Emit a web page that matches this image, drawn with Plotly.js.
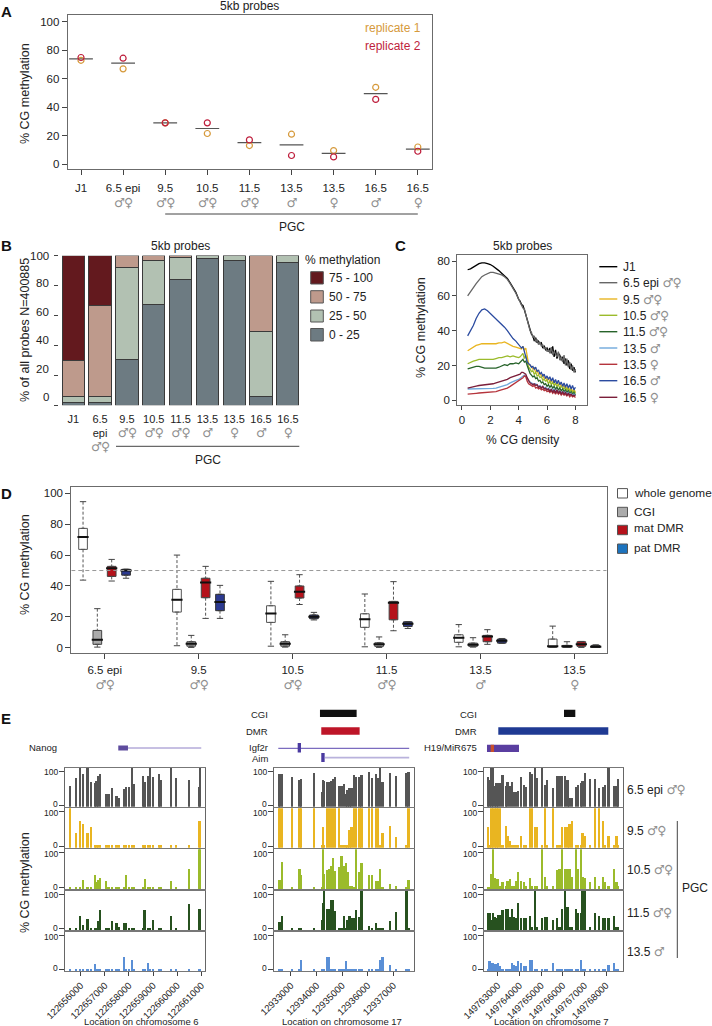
<!DOCTYPE html>
<html><head><meta charset="utf-8">
<script src="https://cdn.plot.ly/plotly-3.0.1.min.js"></script>
<style>html,body{margin:0;padding:0;background:#fff}#g{width:712px;height:1026px}</style>
</head><body><div id="g"></div>
<script>
const SX='♂♀', M='♂', F='♀';
// ---------- Panel A
const aTicks=['J1','6.5 epi','9.5','10.5','11.5','13.5','13.5','16.5','16.5'];
const aSex=['',SX,SX,SX,SX,M,F,M,F];
const aRep1=[73,67,29,21.5,13,21,9.5,54,12];
const aRep2=[75,74.5,29,29,17,6,5,45.5,9];
const aMean=[74,71,29,25,15,13.5,7.5,49.5,10.5];
// ---------- Panel B
const bTicks=['J1','6.5<br>epi','9.5','10.5','11.5','13.5','13.5','16.5','16.5'];
const bSex=['',SX,SX,SX,SX,M,F,M,F];
const b0_25=[2,2,30.7,67.5,84.2,97.8,96.9,6.2,95.5];
const b25_50=[3.8,3.8,61.5,29.5,14.5,2,3,43,4.3];
const b50_75=[24,60.6,7.6,3,1.2,0.2,0.1,50.8,0.2];
const b75_100=[70.2,33.6,0.2,0,0.1,0,0,0,0];
const bLegend=['75 - 100','50 - 75','25 - 50','0 - 25'];
const bAxisLabels=['100','80','60','40','20','0'];
// ---------- Panel C
const cX=[0.4,0.6,0.8,1,1.2,1.4,1.6,1.8,2,2.2,2.4,2.6,2.8,3,3.2,3.4,3.6,3.8,4,
4.1,4.2,4.3,4.4,4.5,4.6,4.7,4.8,4.9,5,5.1,5.2,5.3,5.4,5.5,5.6,5.7,5.8,5.9,6,
6.1,6.2,6.3,6.4,6.5,6.6,6.7,6.8,6.9,7,7.1,7.2,7.3,7.4,7.5,7.6,7.7,7.8,7.9,8];
const cJ1=[75,75.5,76.5,77.5,78.5,79,79,78.5,78,77,76,74.5,73,71.5,70,67.5,65,62,58,
57,55,54.5,52,49,47,44,41.5,38,37,34,36,33,34,32.5,33,30,31,29,30,
28,30,27,31,25,29,24,27,26,23,25,21,24,20,23,18,21,17,19,16];
const cE65=[60,62.5,65,67,69,71,72,73,73.5,73.5,73,72.5,72,71,69.5,67,64.5,61.5,58,
56.5,55,53,52.5,49,46,43,40,39,36,37,33.5,35,32,33.5,31,32,29.5,30.5,28,
29,27,30.5,26,28,26.5,25,28,23,25,22,26,20,24,19,22,17.5,20,16,18];
const c95=[28.5,29.5,30.5,31.5,32,32.5,32.5,32.5,32.5,32.5,32.5,33,33,33.5,32.5,31.5,31,30.5,30,
30,29.5,31,29,30,26,21,20,19.5,18,18.5,16,17,15,15.5,14,14.5,12.5,13,11.5,
12.5,10.5,12,9.5,11.5,9,10.5,8.5,10,8,9,7.5,8.5,6,8,5.5,7,5,6.5,4.5];
const c105=[21,22,22.5,23,23.5,23.5,23.5,23.5,23.5,23.5,24,24.5,24.5,25,25.5,25,25.5,25,24.5,
25,26,27,24,26,22,19,18,16.5,17,15,16,14,14.5,13,13.5,11.5,12,11,11.5,
9.5,11,9,10.5,8.5,9.5,8,9,7,8,7.5,6.5,7.5,5.5,7,5,6,4.5,5.5,4];
const c115=[18,18.5,19,19.5,19.5,19,18.5,18.5,18.5,18.5,18.5,19,20,20.5,20,21,21,21.5,21,
22,22.5,23.5,22,22.5,20,17,15.5,14.5,13.5,14,12.5,13,11,11.5,10,10.5,9,9.5,8,
9,7.5,8.5,7,8,6.5,7.5,6,7,5.5,6.5,5,6,4.5,5.5,4,5,3.5,4.5,3];
const c135m=[6.5,6.5,6.5,6.5,6.5,6.5,6.5,6.5,6.5,6.8,7,7.5,8,8.5,9,10,11,11.5,12,
12.5,13,14,14.5,14,12.5,11,10.5,10,9.5,9,9.5,8.5,8,8.5,7.5,8,7,7.5,6.5,
7,6,6.5,5.5,6.5,5,6,4.5,5.5,4.5,5,4,5,3.5,4.5,3,4,3,3.5,2.5];
const c135f=[3.5,3.8,4,4,4.2,4.3,4.3,4.4,4.5,4.6,5,5.5,6,6.5,7,8,9,10,11,
11.5,12,13,14,13.5,11,9.5,9,8.5,8,8.5,7,7.5,6.5,7,6,6.5,5.5,6,5,
5.5,4.5,5.5,4,5,3.5,5,3.5,4.5,3,4,3,3.5,2.5,3.5,2,3,2,2.5,1.5];
const c165m=[37,40,43,47,50,52,52.5,51.5,50,48.5,47,45.5,44,42,40,37.5,35.5,34,32,
31.5,30,31,28,26,22,21,20.5,19,19.5,18,19,16.5,17.5,15,16,14,15,12.5,14,
12,13.5,11,13,10,12,9.5,11.5,9,10.5,8,10,7.5,9.5,7,9,6.5,8.5,6,7.5];
const c165f=[7,7.5,8,8.2,8.5,8.7,9,9,9,9.5,10,10.5,11,11.5,12,13,13.5,14,14.5,
15,16,16,15.5,15,13,11,10,9.5,9,9.5,8.5,9,7.5,8,7,8,6.5,7,6,
6.5,5,6.5,4.5,6,4,6,4,5.5,3.5,5,3.5,4.5,3,4,3,3.5,2.5,3,2.5];
// ---------- Panel D
const dTicks=['6.5 epi','9.5','10.5','11.5','13.5','13.5'];
const dSex=[SX,SX,SX,SX,M,F];
const wgLow=[43.8,1.3,1,0.6,0.6,0.2], wgQ1=[63.7,23.1,16.4,13.2,3.5,0.2], wgMed=[71.7,31.1,22.2,18.4,6.5,0.9], wgQ3=[77.3,37.8,27.2,22,8.4,5.6], wgHigh=[94.6,60,43,34.8,15,14];
const cgLow=[0.4,0.2,0.4,0.2,0.4,0.2], cgQ1=[2.2,1,1,0.9,0.9,0.2], cgMed=[5.2,2.6,2.6,2.2,2,0.9], cgQ3=[11.2,3.9,3.9,3.2,3,1.5], cgHigh=[25.3,8,8.4,7,6.5,3.9];
const maLow=[43.2,19,28,11,2.2,0.2], maQ1=[46.2,32.4,32.2,18.1,3.9,0.9], maMed=[51.4,42.3,36.3,29.2,7.3,2.2], maQ3=[52.7,45,40,30,8,3.9], maHigh=[57.2,52.7,47.3,42.8,11.7,4.1];
const paLow=[45,19,18,12.5,2.8,0.2], paQ1=[47,24,18.8,13.8,3,0.2], paMed=[50,29.6,20,15.5,4.5,0.6], paQ3=[50.8,34.6,21.2,16.8,5.6,1.5], paHigh=[50.8,40.4,22.9,16.8,6,1.9];
// ---------- Panel E
const rowLabels=['6.5 epi','9.5','10.5','11.5','13.5'];
const rowSex=[SX,SX,SX,SX,M];
const e1Start=122656000, e2Start=12933000, e3Start=149763000;
const e1Ticks=[122656000,122657000,122658000,122659000,122660000,122661000];
const e2Ticks=[12933000,12934000,12935000,12936000,12937000];
const e3Ticks=[149763000,149764000,149765000,149766000,149767000,149768000];
const e1Kb=[-0.43,-0.18,-0.03,0.11,0.28,0.43,0.59,0.66,0.73,0.79,1.05,1.15,1.31,1.49,1.59,1.80,1.88,2.00,2.14,2.21,2.57,2.64,2.68,2.80,2.87,3.01,3.25,3.31,3.73,3.94,4.50,4.90,4.94];
const e1R1=[56,80,100,91,100,69,66,71,85,91,32,32,50,28,20,47,55,55,100,61,85,69,56,85,100,82,91,74,100,79,74,55,100];
const e1R2=[100,38,74,66,38,56,3,3,3,3,3,3,3,3,3,3,3,3,3,3,3,3,3,3,3,3,3,3,3,3,3,74,74];
const e1R3=[3,3,3,22,3,3,37,16,23,28,19,3,3,3,3,3,37,3,3,3,3,3,26,3,3,3,3,3,21,3,55,100,100];
const e1R4=[3,3,37,11,29,3,3,3,23,54,3,3,23,17,6,17,17,3,3,3,3,54,54,3,3,25,3,3,37,3,73,56,56];
const e1R5=[3,3,3,3,3,3,17,3,3,3,3,3,3,3,3,38,3,3,29,3,3,3,3,19,3,3,3,3,3,3,3,3,3];
const e2Kb=[-0.48,-0.43,-0.36,0.03,0.33,0.39,0.90,1.20,1.25,1.30,1.41,1.49,1.56,1.64,1.72,1.88,1.98,2.06,2.14,2.21,2.29,2.37,2.45,2.54,2.68,2.76,3.06,3.18,3.31,3.39,3.49,3.58,3.86,4.10,4.51,4.59];
const e2R1=[91,91,91,82,74,78,94,38,74,71,69,67,71,78,84,56,56,61,32,45,52,52,88,82,82,88,96,81,91,80,100,69,95,85,95,98];
const e2R2=[100,100,100,100,100,100,100,3,56,3,100,100,100,100,100,100,3,3,3,3,46,56,100,100,100,100,100,100,100,100,3,38,58,26,3,100];
const e2R3=[23,23,73,3,55,36,3,3,100,39,50,55,63,86,48,60,92,63,70,44,5,5,3,100,46,70,38,38,21,21,55,3,12,4,3,23];
const e2R4=[20,20,37,3,3,3,3,27,74,100,56,56,82,82,52,3,3,37,3,25,37,30,30,54,35,100,9,3,17,3,3,3,23,48,100,3];
const e2R5=[3,3,3,3,3,29,3,3,3,3,38,38,3,3,3,3,3,3,24,3,3,3,3,3,3,3,3,3,3,3,29,38,14,3,3,3];
const e3Kb=[-0.45,-0.38,-0.29,-0.23,-0.14,-0.05,0.03,0.11,0.22,0.37,0.45,0.57,0.66,0.75,0.85,0.94,1.09,1.20,1.32,1.49,1.57,1.71,1.83,2.05,2.17,2.29,2.54,2.75,2.85,2.98,3.12,3.22,3.31,3.43,3.62,3.71,3.83,3.92,4.03,4.26,4.49,4.69,4.85,4.97,5.12,5.37,5.49,5.57];
const e3R1=[82,74,100,100,56,66,64,66,88,56,69,56,69,40,40,43,84,59,54,98,91,100,79,100,59,74,50,87,87,87,87,74,22,22,54,59,64,71,95,78,78,52,54,59,100,57,56,78];
const e3R2=[56,3,100,100,100,100,100,100,3,58,29,15,3,3,3,3,31,3,3,100,100,56,56,3,100,3,100,3,3,56,56,56,66,74,3,3,3,39,29,3,100,100,73,3,31,3,31,3];
const e3R3=[3,3,40,100,28,26,24,4,16,4,21,26,4,4,21,44,21,16,4,28,4,4,4,100,31,4,4,50,55,100,55,55,55,31,100,55,100,31,28,16,31,4,31,16,4,55,16,4];
const e3R4=[47,47,25,47,33,30,40,40,54,56,56,35,56,35,30,74,30,30,30,37,5,100,5,30,33,33,25,30,5,56,100,64,5,5,56,45,45,100,100,5,45,37,30,30,30,37,5,5];
const e3R5=[3,24,19,19,17,17,19,10,3,3,3,3,19,15,10,24,19,10,10,27,27,3,3,3,3,3,19,3,3,3,3,3,3,3,3,3,29,3,3,3,3,3,3,3,15,19,3,3];
// gene model coordinates (genome positions)
const nanogGene=[122657794,122660998], nanogExon=[122657558,122657960];
const cgi2=[12934133,12935566], dmr2=[12934184,12935684];
const igf2rGene=[12932504,12937621], igf2rExon=[12933262,12933391];
const aimGene=[12934328,12937621], aimExon=[12934184,12934316];
const cgi3=[149766061,149766583], dmr3=[149763028,149768106];
const h19Gene=[149762506,149763983], h19Exon=[149762677,149762829];

// ---------- helpers
const W=712,H=1026, FONT='"Liberation Sans",Arial,sans-serif';
const INK='#222222', GREY='#909090', BOX='#6b6b6b';
const px=x=>x/W, py=y=>1-y/H;
const traces=[], shapes=[], annotations=[], layout={};
function sexSpan(s){return s?`<span style="color:${GREY};font-family:'DejaVu Sans';font-size:12.5px;letter-spacing:-1px">${s}</span>`:'';}
function ann(x,y,text,o={}){annotations.push({xref:'paper',yref:'paper',x:px(x),y:py(y),text,showarrow:false,
  xanchor:o.a||'center',yanchor:'middle',textangle:o.angle||0,align:o.a||'center',
  font:{family:FONT,size:o.size||12,color:o.color||INK},borderpad:0,borderwidth:0});}
function addAxes(n,xp,yp,xo,yo){
  const s=n>1?n:'';
  layout['xaxis'+s]=Object.assign({domain:[px(xp[0]),px(xp[1])],anchor:'y'+s,showgrid:false,zeroline:false,showline:true,mirror:true,linecolor:BOX,linewidth:1,
    ticks:'outside',ticklen:5,tickcolor:'#444',tickangle:0,tickfont:{family:FONT,size:11.5,color:INK},fixedrange:true},xo);
  layout['yaxis'+s]=Object.assign({domain:[py(yp[1]),py(yp[0])],anchor:'x'+s,showgrid:false,zeroline:false,showline:true,mirror:true,linecolor:BOX,linewidth:1,
    ticks:'outside',ticklen:5,tickcolor:'#444',tickangle:0,tickfont:{family:FONT,size:11.5,color:INK},fixedrange:true},yo);
}
function lineShape(x0,y0,x1,y1,color,w,dash){shapes.push({type:'line',xref:'paper',yref:'paper',x0:px(x0),x1:px(x1),y0:py(y0),y1:py(y1),line:{color,width:w,dash:dash||'solid'}});}
function rectShape(x0,y0,x1,y1,fill,lc){shapes.push({type:'rect',xref:'paper',yref:'paper',x0:px(x0),x1:px(x1),y0:py(y0),y1:py(y1),fillcolor:fill,line:{color:lc||fill,width:lc?1:0}});}
function geneRect(xref,xs,y0,y1,fill){shapes.push({type:'rect',xref,yref:'paper',x0:xs[0],x1:xs[1],y0:py(y0),y1:py(y1),fillcolor:fill,line:{width:0}});}
function geneLine(xref,xs,y,color,w){shapes.push({type:'line',xref,yref:'paper',x0:xs[0],x1:xs[1],y0:py(y),y1:py(y),line:{color,width:w}});}
const idx=a=>a.map((_,i)=>i);

// ---------- A
addAxes(1,[67.7,431.7],[15,169],{range:[-0.316,8.33],tickmode:'array',tickvals:idx(aTicks),ticklabelstandoff:3,
  ticktext:aTicks.map((t,i)=>t+'<br>'+sexSpan(aSex[i]))},{range:[-3.5,104.9],tickvals:[0,20,40,60,80,100]});
traces.push({x:idx(aMean),y:aMean,mode:'markers',type:'scatter',xaxis:'x',yaxis:'y',marker:{symbol:'line-ew',size:17,line:{width:1.2,color:'#555'}}});
traces.push({x:idx(aRep1),y:aRep1,mode:'markers',type:'scatter',marker:{symbol:'circle-open',size:6,line:{width:1.2,color:'#D69A3C'},color:'#D69A3C'}});
traces.push({x:idx(aRep2),y:aRep2,mode:'markers',type:'scatter',marker:{symbol:'circle-open',size:6,line:{width:1.2,color:'#BE1E3C'},color:'#BE1E3C'}});
ann(249,6.5,'5kb probes');
ann(393,28.3,'replicate 1',{color:'#D69A3C'});
ann(393,45.7,'replicate 2',{color:'#BE1E3C'});
ann(25,94,'% CG methylation',{angle:-90,size:12.5});
shapes.push({type:'line',xref:'x',yref:'paper',x0:2,x1:8,y0:py(214),y1:py(214),line:{color:'#444',width:1}});
ann(291.7,226.7,'PGC');
ann(6,11.5,'<b>A</b>',{size:15,color:'#111'});

// ---------- B
addAxes(2,[59.3,301],[255.7,405.3],{range:[-0.52,8.49],tickmode:'array',tickvals:idx(bTicks),ticklen:0,showline:false,mirror:false,ticklabelstandoff:3,
  ticktext:bTicks.map((t,i)=>t+(bSex[i]?'<br>'+sexSpan(bSex[i]):'')),tickfont:{family:FONT,size:11,color:INK}},
  {range:[0,100],tickvals:[0,20,40,60,80,100],showticklabels:false,showline:false,mirror:false,ticklen:4});
const bCols=['#6D7B82','#B2C1B2','#BE9A8C','#63191E'];
[b0_25,b25_50,b50_75,b75_100].forEach((v,i)=>traces.push({type:'bar',x:idx(v),y:v,xaxis:'x2',yaxis:'y2',width:0.83,cliponaxis:false,
  marker:{color:bCols[i],line:{color:'#3a3a3a',width:1}}}));
[255.7,283.3,311.7,340,369,397.3].forEach((y,i)=>ann(49,y,bAxisLabels[i],{a:'right',size:11.5}));
ann(180,245.7,'5kb probes');
ann(25,330,'% of all probes N=400885',{angle:-90,size:12.5});
shapes.push({type:'line',xref:'paper',yref:'paper',x0:px(116),x1:px(299.3),y0:py(446.3),y1:py(446.3),line:{color:'#444',width:1}});
ann(208,460,'PGC');
ann(6,245,'<b>B</b>',{size:15,color:'#111'});
ann(305,260,'% methylation',{a:'left'});
[[271.7,284,'#63191E'],[290.7,303,'#BE9A8C'],[310,322,'#B2C1B2'],[328.5,341,'#6D7B82']].forEach((r,i)=>{
  rectShape(310.7,r[0],323.3,r[1],r[2],'#555');
  ann(329,(r[0]+r[1])/2,bLegend[i],{a:'left'});
});

// ---------- C
addAxes(3,[457.3,587.3],[255.3,405.3],{range:[-0.33,8.84],tickvals:[0,2,4,6,8],ticklen:4},{range:[-2.87,83.3],tickvals:[0,20,40,60,80],ticklen:4});
const cNames=['J1','6.5 epi','9.5','10.5','11.5','13.5','13.5','16.5','16.5'];
const cSex=['',SX,SX,SX,SX,M,F,M,F];
const cCols=['#000000','#666666','#E9B521','#9BBB2B','#27632A','#6FA8DC','#B5343C','#2B4BA0','#7B1E3A'];
const cY=[cJ1,cE65,c95,c105,c115,c135m,c135f,c165m,c165f];
cY.forEach((v,i)=>traces.push({type:'scatter',mode:'lines',x:cX,y:v,xaxis:'x3',yaxis:'y3',line:{color:cCols[i],width:1.3}}));
[266.7,282.7,299,315.3,331.7,348,364.3,380.7,397.3].forEach((y,i)=>{
  lineShape(599.3,y,617.3,y,cCols[i],1.4);
  ann(622.7,y,cNames[i]+(cSex[i]?' '+sexSpan(cSex[i]):''),{a:'left'});
});
ann(522.3,245.7,'5kb probes');
ann(522.3,440,'% CG density');
ann(421,328,'% CG methylation',{angle:-90,size:12.5});
ann(400,245,'<b>C</b>',{size:15,color:'#111'});

// ---------- D
addAxes(4,[71.3,606.7],[487.3,653.3],{range:[-0.356,5.344],tickmode:'array',tickvals:idx(dTicks),ticklabelstandoff:1,
  ticktext:dTicks.map((t,i)=>t+'<br>'+sexSpan(dSex[i]))},{range:[-3.6,103.9],tickvals:[0,20,40,60,80,100]});
shapes.push({type:'line',xref:'x4',yref:'y4',x0:-0.356,x1:5.344,y0:50,y1:50,line:{color:'#999',width:1,dash:'4px,3px'}});
const dOff=[-0.231,-0.079,0.074,0.227];
const dSeries=[[wgLow,wgQ1,wgMed,wgQ3,wgHigh,'#FFFFFF','#555'],[cgLow,cgQ1,cgMed,cgQ3,cgHigh,'#ABABAB','#444'],
 [maLow,maQ1,maMed,maQ3,maHigh,'#B5121B','#444'],[paLow,paQ1,paMed,paQ3,paHigh,'#2B3990','#333']];
dSeries.forEach((s,k)=>{
  const X=s[0].map((_,i)=>i+dOff[k]);
  const wx=[],wy=[];
  X.forEach((x,i)=>{wx.push(x,x,null,x,x,null);wy.push(s[4][i],s[3][i],null,s[1][i],s[0][i],null);});
  traces.push({type:'scatter',mode:'lines',x:wx,y:wy,xaxis:'x4',yaxis:'y4',line:{color:'#555',width:1,dash:'3px,2px'}});
  traces.push({type:'scatter',mode:'markers',x:X.concat(X),y:s[0].concat(s[4]),xaxis:'x4',yaxis:'y4',marker:{symbol:'line-ew',size:4.5,line:{width:1,color:'#444'}}});
  traces.push({type:'box',x:X,q1:s[1],median:s[2],q3:s[3],lowerfence:s[1],upperfence:s[3],xaxis:'x4',yaxis:'y4',width:0.0926,
    fillcolor:s[5],line:{color:s[6],width:1},boxpoints:false});
  traces.push({type:'scatter',mode:'markers',x:X,y:s[2],xaxis:'x4',yaxis:'y4',marker:{symbol:'line-ew',size:8,line:{width:2,color:'#111'}}});
});
ann(25,565,'% CG methylation',{angle:-90,size:12.5});
ann(6,493,'<b>D</b>',{size:15,color:'#111'});
[['whole genome',493.3,'#FFFFFF',492.7],['CGI',512,'#ABABAB',512],['mat DMR',530,'#B5121B',528],['pat DMR',548.7,'#1C73BE',548]].forEach(r=>{
  rectShape(617.5,r[1]-4.7,627.5,r[1]+4.7,r[2],'#555');
  ann(634,r[3],r[0],{a:'left',size:11.8});
});

// ---------- E
const rowsY=[[767.7,806.7],[808.3,847.7],[849.3,889.3],[890.7,930.3],[932,971]];
const rowCols=['#555555','#E9B521','#9BBB2B','#27511F','#5A8FD6'];
const columns=[
 {xp:[65.3,204.7],range:[122655362,122661141],start:e1Start,kb:e1Kb,rows:[e1R1,e1R2,e1R3,e1R4,e1R5],ticks:e1Ticks,w:95,chr:'Location on chromosome 6',lab:141},
 {xp:[274.3,413.7],range:[12932348,12937797],start:e2Start,kb:e2Kb,rows:[e2R1,e2R2,e2R3,e2R4,e2R5],ticks:e2Ticks,w:90,chr:'Location on chromosome 17',lab:342},
 {xp:[483.7,622.7],range:[149762354,149768771],start:e3Start,kb:e3Kb,rows:[e3R1,e3R2,e3R3,e3R4,e3R5],ticks:e3Ticks,w:105,chr:'Location on chromosome 7',lab:551}
];
let axisN=5;
const colFirstAxis=[];
columns.forEach(c=>{
  colFirstAxis.push(axisN);
  const xs=c.kb.map(k=>c.start+k*1000);
  c.rows.forEach((vals,r)=>{
    const n=axisN++; const last=r===4;
    addAxes(n,c.xp,rowsY[r],{range:c.range,tickmode:'array',tickvals:c.ticks,ticktext:c.ticks.map(String),
      showticklabels:last,ticks:last?'outside':'',tickangle:-45,ticklen:4,linecolor:'#777',linewidth:1.2,
      tickfont:{family:FONT,size:9.5,color:INK}},
      {range:[-4,110],tickvals:[0,100],ticklen:5,linecolor:'#666',showticklabels:false});
    traces.push({type:'bar',x:xs,y:vals.map(v=>v>=100?114:v+4),base:-4,width:c.w,xaxis:'x'+n,yaxis:'y'+n,marker:{color:rowCols[r],line:{width:0}}});
    // tick labels nudged apart so the 0 of one track does not sit on the 100 of the next
    ann(c.xp[0]-7,rowsY[r][0]+4.6,'100',{a:'right',size:8.5});
    ann(c.xp[0]-7,rowsY[r][1]-2.6,'0',{a:'right',size:8.5});
  });
  ann(c.lab,1021,c.chr,{size:9.5});
});
const gx1='x'+colFirstAxis[0], gx2='x'+colFirstAxis[1], gx3='x'+colFirstAxis[2];
// Nanog
geneLine(gx1,nanogGene,748,'#8E80C6',1);
geneRect(gx1,nanogExon,745.5,750.5,'#5E4C9E');
ann(43,747.3,'Nanog',{size:9.5});
// Igf2r / Aim column
geneRect(gx2,cgi2,709.7,717,'#111111');
geneRect(gx2,dmr2,727.3,734.7,'#BE1528');
geneLine(gx2,igf2rGene,748.3,'#5A48B0',1);
geneRect(gx2,igf2rExon,743,752.5,'#4A3AA0');
geneLine(gx2,aimGene,757.7,'#B9B2DC',1.8);
geneRect(gx2,aimExon,753,762,'#4A3AA0');
ann(268,714.7,'CGI',{a:'right',size:9.5});
ann(268,731,'DMR',{a:'right',size:9.5});
ann(268,747,'Igf2r',{a:'right',size:9.5});
ann(268,758,'Aim',{a:'right',size:9.5});
// H19 column
geneRect(gx3,cgi3,709.7,717,'#111111');
geneRect(gx3,dmr3,727.3,734.7,'#1F3A93');
geneRect(gx3,h19Gene,744.7,752,'#5A3EA0');
geneRect(gx3,h19Exon,744.7,752,'#C8502C');
ann(476.5,714.7,'CGI',{a:'right',size:9.5});
ann(476.5,731,'DMR',{a:'right',size:9.5});
ann(476.5,747,'H19/MiR675',{a:'right',size:9.5});
// Right labels
[789,830,869,912,951].forEach((y,i)=>ann(627,y,rowLabels[i]+' '+sexSpan(rowSex[i]),{a:'left'}));
lineShape(677.3,821,677.3,958,'#444',1);
ann(695,888,'PGC');
ann(25,883,'% CG methylation',{angle:-90,size:12.5});
ann(6,718,'<b>E</b>',{size:15,color:'#111'});

Object.assign(layout,{width:W,height:H,margin:{l:0,r:0,t:0,b:0,pad:0},autosize:false,showlegend:false,hovermode:false,
  paper_bgcolor:'#fff',plot_bgcolor:'#fff',barmode:'stack',boxmode:'overlay',font:{family:FONT,color:INK},shapes,annotations});
Plotly.newPlot('g',traces,layout,{displayModeBar:false,staticPlot:true});
</script></body></html>
